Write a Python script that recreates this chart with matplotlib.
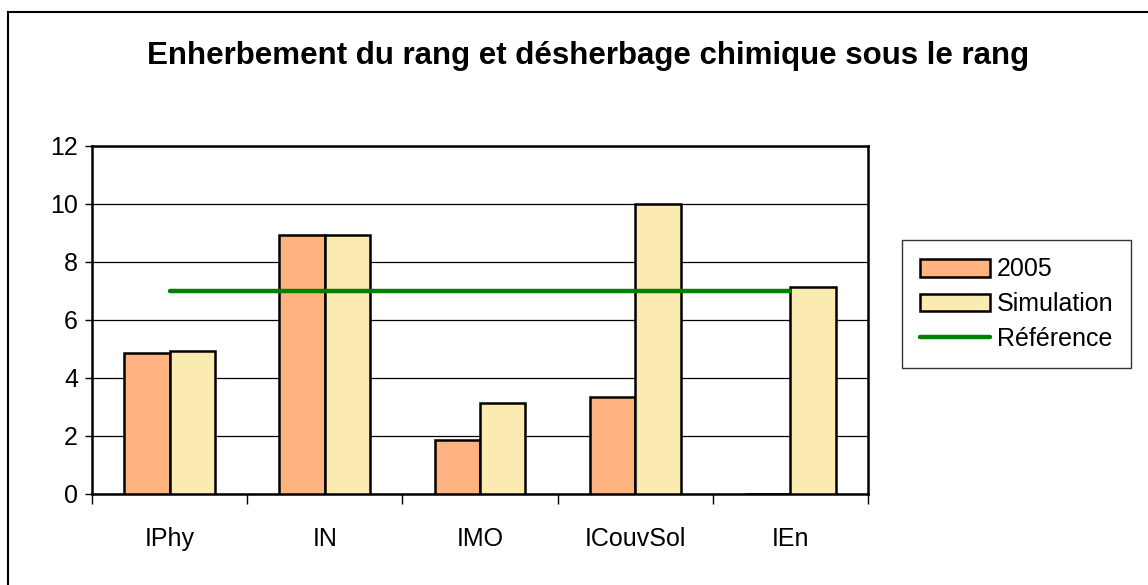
import numpy as np
import matplotlib
matplotlib.use("Agg")
import matplotlib.pyplot as plt
from matplotlib.lines import Line2D

# Values
categories = ['IPhy', 'IN', 'IMO', 'ICouvSol', 'IEn']
vals_2005 = [4.86, 8.93, 1.87, 3.33, 0.0]
vals_sim = [4.94, 8.93, 3.14, 10.0, 7.13]
reference = [7.0, 7.0, 7.0, 7.0, 7.0]

plt.rcParams['font.family'] = ['Liberation Sans', 'DejaVu Sans']

fig = plt.figure(figsize=(11.48, 5.85), dpi=100)
ax = fig.add_axes([0.0801, 0.1556, 0.6760, 0.5949])

x = np.arange(len(categories))
w = 0.293
b1 = ax.bar(x - w/2, vals_2005, w, color='#FFB380', edgecolor='black', linewidth=1.8,
            label='2005', zorder=3)
b2 = ax.bar(x + w/2, vals_sim, w, color='#FBEBB0', edgecolor='black', linewidth=1.8,
            label='Simulation', zorder=3)
ln, = ax.plot(x, reference, color='#008000', linewidth=3.2, solid_capstyle='round',
              label='Référence', zorder=4)

ax.set_xlim(-0.5, len(categories) - 0.5)
ax.set_ylim(0, 12)
ax.set_yticks(np.arange(0, 13, 2))
ax.tick_params(axis='y', labelsize=18, length=5, width=1, direction='out', pad=5)
ax.set_xticks(x)
ax.set_xticklabels(categories, fontsize=18)
ax.tick_params(axis='x', length=0, pad=24)
ax.set_xticks(np.arange(-0.5, len(categories)), minor=True)
ax.tick_params(axis='x', which='minor', length=7, width=1, direction='out')
ax.grid(axis='y', color='black', linewidth=0.9, zorder=0)
for s in ax.spines.values():
    s.set_color('black')
    s.set_linewidth(1.8)

fig.text(0.512, 0.904, 'Enherbement du rang et désherbage chimique sous le rang',
         ha='center', va='center', fontsize=22.5, fontweight='bold')

leg = fig.legend([b1, b2, ln], ['2005', 'Simulation', 'Référence'],
                 loc='upper left', bbox_to_anchor=(902/1148, 1 - 240/585),
                 fontsize=18, frameon=True, fancybox=False, handlelength=2.8,
                 handleheight=0.7, handletextpad=0.3, borderpad=0.7,
                 labelspacing=0.42, borderaxespad=0)
leg.get_frame().set_edgecolor('black')
leg.get_frame().set_linewidth(1.0)

# outer chart border (only top and left edges are visible in the reference)
bx, by = 8/1148, 1 - 12/585
fig.lines.append(Line2D([bx, 1.0], [by, by], transform=fig.transFigure,
                        color='black', linewidth=1.5))
fig.lines.append(Line2D([bx, bx], [0.0, by], transform=fig.transFigure,
                        color='black', linewidth=1.5))

fig.savefig('out.png', dpi=100)
